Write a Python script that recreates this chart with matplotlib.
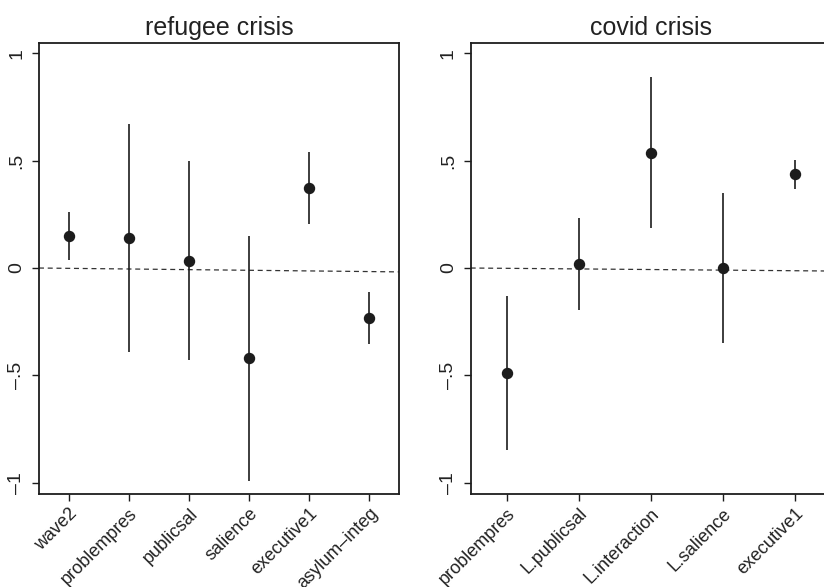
import matplotlib
matplotlib.use("Agg")
import matplotlib.pyplot as plt

plt.rcParams['font.family'] = ['Liberation Sans', 'DejaVu Sans']

# refugee crisis panel
ref_labels = ["wave2", "problempres", "publicsal", "salience", "executive1", "asylum\u2013integ"]
ref_coef = [0.148, 0.138, 0.034, -0.419, 0.371, -0.233]
ref_lo = [0.037, -0.393, -0.427, -0.991, 0.205, -0.352]
ref_hi = [0.262, 0.671, 0.497, 0.150, 0.539, -0.113]
ref_ref = [0.0, -0.018]   # dashed reference line, left/right ends

# covid crisis panel
cov_labels = ["problempres", "L.publicsal", "L.interaction", "L.salience", "executive1"]
cov_coef = [-0.489, 0.019, 0.538, 0.0, 0.436]
cov_lo = [-0.846, -0.195, 0.185, -0.351, 0.367]
cov_hi = [-0.129, 0.233, 0.888, 0.349, 0.504]
cov_ref = [0.0, -0.014]

ytick_vals = [-1, -0.5, 0, 0.5, 1]
ytick_text = ["\u20131", "\u2013.5", "0", ".5", "1"]

ink = "#1c1c1c"
fig = plt.figure(figsize=(8.24, 5.87), dpi=100)
ax1 = fig.add_axes([0.0473, 0.1584, 0.4373, 0.7678])
ax2 = fig.add_axes([0.5712, 0.1584, 0.4373, 0.7678])

def panel(ax, title, labels, coef, lo, hi, ref):
    n = len(labels)
    xs = list(range(1, n + 1))
    ax.plot([0.5, n + 0.5], ref, linestyle=(0, (4, 3)), color="#333333", lw=0.9, zorder=1)
    ax.vlines(xs, lo, hi, color=ink, lw=1.2, zorder=2)
    ax.plot(xs, coef, 'o', color=ink, markersize=7.2, zorder=3)
    ax.set_xlim(0.5, n + 0.5)
    ax.set_ylim(-1.053, 1.047)
    ax.set_xticks(xs)
    ax.set_xticklabels(labels, rotation=45, ha='right', va='top', rotation_mode='anchor', fontsize=13, color="#222222")
    ax.set_yticks(ytick_vals)
    ax.set_yticklabels(ytick_text, rotation=90, va='center', fontsize=14, color="#222222")
    ax.tick_params(axis='both', direction='out', length=5, width=1.0, color=ink, pad=3)
    ax.tick_params(axis='y', pad=5)
    for s in ax.spines.values():
        s.set_linewidth(1.3)
        s.set_color(ink)
    ax.set_title(title, fontsize=18, color="#222222", pad=6)

panel(ax1, "refugee crisis", ref_labels, ref_coef, ref_lo, ref_hi, ref_ref)
panel(ax2, "covid crisis", cov_labels, cov_coef, cov_lo, cov_hi, cov_ref)

fig.savefig("out.png", dpi=100)
